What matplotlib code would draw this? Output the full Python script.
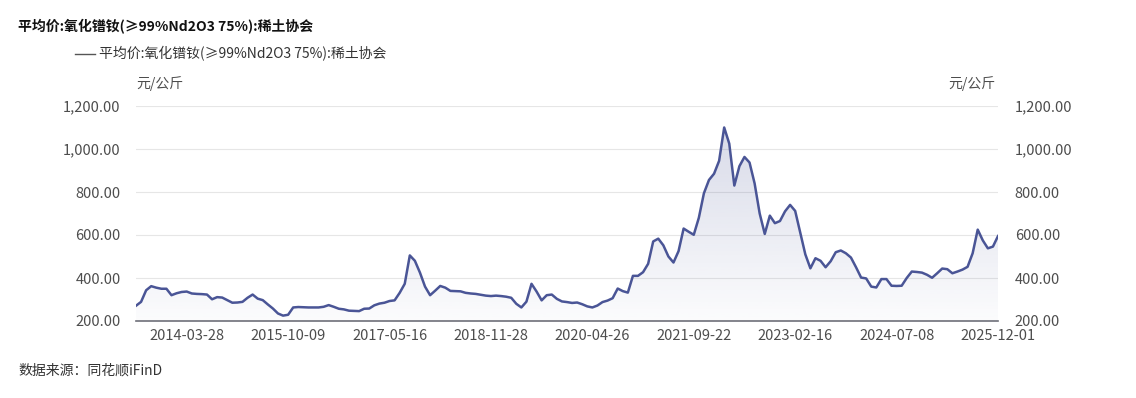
import numpy as np
import matplotlib
matplotlib.use('Agg')
import matplotlib.pyplot as plt
from matplotlib.patches import PathPatch
from matplotlib.lines import Line2D

plt.rcParams['font.family'] = ['Noto Sans CJK SC', 'DejaVu Sans']

title = '平均价:氧化镨钕(≥99%Nd2O3 75%):稀土协会'
unit = '元/公斤'
source = '数据来源：同花顺iFinD'

# price samples, equally spaced along the category axis (元/公斤)
values = [
    271, 289, 343, 362, 355, 350, 350, 320, 329, 335,
    337, 328, 326, 325, 323, 301, 311, 309, 297, 285,
    286, 289, 308, 323, 304, 297, 277, 258, 235, 225,
    229, 263, 265, 264, 263, 263, 263, 266, 274, 266,
    257, 254, 248, 247, 246, 257, 258, 273, 281, 285,
    293, 296, 331, 373, 505, 480, 425, 360, 320, 341,
    363, 355, 340, 339, 338, 331, 328, 326, 322, 318,
    316, 318, 316, 313, 308, 280, 263, 290, 373, 337,
    296, 320, 323, 303, 291, 288, 284, 286, 278, 268,
    263, 272, 288, 295, 306, 351, 339, 332, 410, 410,
    427, 466, 570, 583, 552, 500, 472, 525, 630, 615,
    601, 680, 794, 856, 885, 945, 1100, 1025, 830, 920,
    963, 937, 840, 700, 605, 690, 655, 665, 710, 740,
    712, 610, 510, 445, 492, 480, 450, 478, 520, 528,
    515, 495, 450, 402, 398, 360, 356, 395, 395, 364,
    363, 364, 400, 430, 428, 425, 415, 401, 422, 444,
    441, 422, 430, 439, 452, 515, 625, 575, 538, 546,
    595,
]
tick_idx = [10, 30, 50, 70, 90, 110, 130, 150, 170]
tick_labels = ['2014-03-28', '2015-10-09', '2017-05-16', '2018-11-28', '2020-04-26',
               '2021-09-22', '2023-02-16', '2024-07-08', '2025-12-01']
y_ticks = [200, 400, 600, 800, 1000, 1200]

line_color = '#4a5596'
text_color = '#4d4d4d'

x = np.arange(len(values))
vals = np.array(values, dtype=float)

fig = plt.figure(figsize=(11.36, 3.98), dpi=100)
ax = fig.add_axes([136/1136, 77/398, 862/1136, 215/398])

ax.set_xlim(0, len(values) - 1)
ax.set_ylim(200, 1200)

# gradient under the line
poly = ax.fill_between(x, vals, 200, color='none', linewidth=0)
patch = PathPatch(poly.get_paths()[0], transform=ax.transData, facecolor='none', edgecolor='none')
ax.add_patch(patch)
grad = np.linspace(0.0, 1.0, 256)
rgba = np.zeros((256, 1, 4))
rgba[..., :3] = matplotlib.colors.to_rgb(line_color)
rgba[:, 0, 3] = 0.02 + 0.2 * grad
im = ax.imshow(rgba, extent=[0, len(values) - 1, 200, 1120], origin='lower',
               aspect='auto', zorder=1)
im.set_clip_path(patch)

ax.plot(x, vals, color=line_color, linewidth=1.8, zorder=3)

ax.set_yticks(y_ticks)
ax.set_yticklabels(['{:,.2f}'.format(v) for v in y_ticks])
ax.set_xticks(tick_idx)
ax.set_xticklabels(tick_labels)
ax.grid(axis='y', color='#e6e6e6', linewidth=0.8)
ax.set_axisbelow(True)
ax.tick_params(axis='both', length=0, labelsize=10.5, colors=text_color)
ax.tick_params(axis='y', pad=11)
ax.tick_params(axis='x', pad=6)
for s in ['top', 'right', 'left']:
    ax.spines[s].set_visible(False)
ax.spines['bottom'].set_color('#6e7079')
ax.spines['bottom'].set_linewidth(1.2)
ax.set_xlim(0, len(values) - 1)

ax2 = ax.twinx()
ax2.set_ylim(ax.get_ylim())
ax2.set_yticks(y_ticks)
ax2.set_yticklabels(['{:,.2f}'.format(v) for v in y_ticks])
ax2.tick_params(axis='y', length=0, labelsize=10.5, colors=text_color, pad=12)
for s in ax2.spines.values():
    s.set_visible(False)

fig.text(18/1136, 1 - 27/398, title, fontsize=10, fontweight='bold', color='#111111',
         va='center', ha='left')
fig.add_artist(Line2D([75/1136, 95/1136], [1 - 54/398, 1 - 54/398], color='#555555',
                      linewidth=1.0, transform=fig.transFigure))
fig.text(99/1136, 1 - 54/398, title, fontsize=10, color='#333333', va='center', ha='left')
fig.text(136/1136, 1 - 84/398, unit, fontsize=10, color=text_color, va='center', ha='left')
fig.text(995/1136, 1 - 84/398, unit, fontsize=10, color=text_color, va='center', ha='right')
fig.text(18/1136, 1 - 371/398, source, fontsize=10, color='#333333', va='center', ha='left')

fig.savefig('out.png', dpi=100)
